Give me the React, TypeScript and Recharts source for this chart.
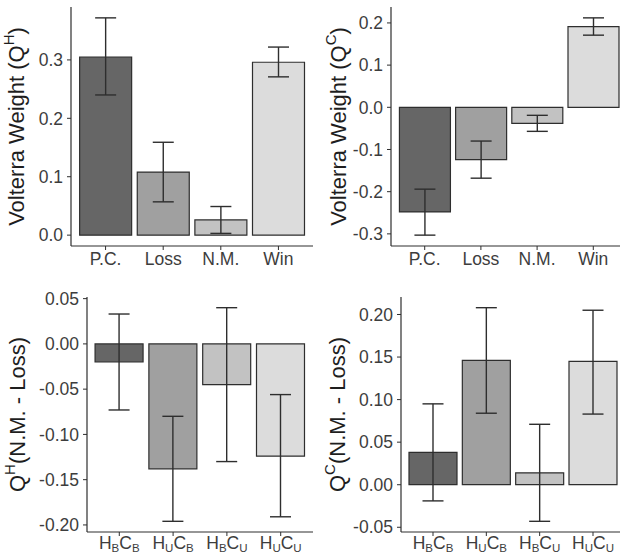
import React from 'react';
import { BarChart, Bar, XAxis, YAxis, ErrorBar, Cell } from 'recharts';

// categories
const outcomeCats = ['P.C.', 'Loss', 'N.M.', 'Win'];
const groupCats = ['HBCB', 'HUCB', 'HBCU', 'HUCU']; // every 2nd letter is a subscript

// Volterra weight, harmony (Q^H)
const qhMean = [0.305, 0.108, 0.026, 0.296];
const qhLow = [0.24, 0.057, 0.003, 0.271];
const qhHigh = [0.372, 0.159, 0.049, 0.322];

// Volterra weight, consonance (Q^C)
const qcMean = [-0.248, -0.124, -0.038, 0.191];
const qcLow = [-0.303, -0.168, -0.057, 0.171];
const qcHigh = [-0.194, -0.08, -0.019, 0.212];

// Q^H (N.M. - Loss)
const dhMean = [-0.02, -0.138, -0.045, -0.124];
const dhLow = [-0.073, -0.196, -0.13, -0.191];
const dhHigh = [0.033, -0.08, 0.04, -0.056];

// Q^C (N.M. - Loss)
const dcMean = [0.038, 0.146, 0.014, 0.145];
const dcLow = [-0.019, 0.084, -0.043, 0.083];
const dcHigh = [0.095, 0.208, 0.071, 0.205];

const ticksQH = [0, 0.1, 0.2, 0.3];
const ticksQC = [-0.3, -0.2, -0.1, 0, 0.1, 0.2];
const ticksDH = [-0.2, -0.15, -0.1, -0.05, 0, 0.05];
const ticksDC = [-0.05, 0, 0.05, 0.1, 0.15, 0.2];

const fills = ['#666666', '#a0a0a0', '#c2c2c2', '#dcdcdc'];

const FONT = '"Liberation Sans", Arial, sans-serif';
const INK = '#2e2e2e';
const TICK_INK = '#3d3d3d';

// ggplot-like expansion: 5% of the data range on each side
const expand = (lo: number[], hi: number[]): [number, number] => {
  const min = Math.min(0, ...lo);
  const max = Math.max(0, ...hi);
  const pad = (max - min) * 0.05;
  return [min - pad, max + pad];
};

const SubTick = (props: any) => {
  const { x, y, payload } = props;
  const s: string = payload.value;
  return (
    <text x={x} y={y} dy={11} textAnchor="middle" fill={TICK_INK} fontSize={17.5} fontFamily={FONT}>
      {s[0]}
      <tspan dy={3} fontSize={11.5}>{s[1]}</tspan>
      <tspan dy={-3}>{s[2]}</tspan>
      <tspan dy={3} fontSize={11.5}>{s[3]}</tspan>
    </text>
  );
};

type PanelProps = {
  left: number;
  top: number;
  width: number;
  height: number;
  axisWidth: number;
  marginTop: number;
  xAxisHeight: number;
  cats: string[];
  mean: number[];
  low: number[];
  high: number[];
  ticks: number[];
  digits: number;
  titleX: number;
  title: React.ReactNode;
  sub?: boolean;
};

const Panel = (p: PanelProps) => {
  const data = p.cats.map((name, i) => ({
    name,
    value: p.mean[i],
    err: [p.mean[i] - p.low[i], p.high[i] - p.mean[i]],
  }));
  const plotW = p.width - p.axisWidth;
  const pad = (plotW / 4.2) * 0.1;
  const domain = expand(p.low, p.high);

  const renderTitle = (lp: any) => {
    const vb = lp.viewBox || {};
    const cy = (vb.y ?? p.marginTop) + (vb.height ?? 0) / 2;
    return (
      <text
        x={p.titleX}
        y={cy}
        transform={`rotate(-90, ${p.titleX}, ${cy})`}
        textAnchor="middle"
        fill="#1e1e1e"
        fontSize={22}
        fontFamily={FONT}
      >
        {p.title}
      </text>
    );
  };

  return (
    <div style={{ position: 'absolute', left: p.left, top: p.top }}>
      <BarChart
        width={p.width}
        height={p.height}
        data={data}
        margin={{ top: p.marginTop, right: 0, bottom: 0, left: 0 }}
        barCategoryGap="5%"
      >
        <XAxis
          dataKey="name"
          type="category"
          height={p.xAxisHeight}
          padding={{ left: pad, right: pad }}
          axisLine={{ stroke: INK, strokeWidth: 1.2 }}
          tickLine={{ stroke: INK }}
          tickSize={4}
          tickMargin={p.sub ? 2 : 3}
          interval={0}
          tick={p.sub ? <SubTick /> : { fill: TICK_INK, fontSize: 17.5, fontFamily: FONT }}
        />
        <YAxis
          type="number"
          width={p.axisWidth}
          domain={domain}
          allowDataOverflow
          ticks={p.ticks}
          interval={0}
          tickFormatter={(v: number) => v.toFixed(p.digits)}
          axisLine={{ stroke: INK, strokeWidth: 1.2 }}
          tickLine={{ stroke: INK }}
          tickSize={4}
          tickMargin={4}
          tick={{ fill: TICK_INK, fontSize: 17.5, fontFamily: FONT }}
          label={{ content: renderTitle }}
        />
        <Bar dataKey="value" stroke={INK} strokeWidth={1.2} isAnimationActive={false}>
          {data.map((d, i) => (
            <Cell key={d.name} fill={fills[i]} />
          ))}
          <ErrorBar dataKey="err" direction="y" width={10.5} stroke={INK} strokeWidth={1.4} />
        </Bar>
      </BarChart>
    </div>
  );
};

export default function App() {
  return (
    <div
      style={{
        position: 'absolute',
        left: 0,
        top: 0,
        width: 620,
        height: 555,
        overflow: 'hidden',
        background: '#fff',
      }}
    >
      <Panel
        left={0}
        top={0}
        width={313}
        height={280}
        axisWidth={71}
        marginTop={7}
        xAxisHeight={34}
        cats={outcomeCats}
        mean={qhMean}
        low={qhLow}
        high={qhHigh}
        ticks={ticksQH}
        digits={1}
        titleX={24}
        title={
          <>
            Volterra Weight (Q
            <tspan dy={-10} fontSize={15}>H</tspan>
            <tspan dy={10}>)</tspan>
          </>
        }
      />
      <Panel
        left={310}
        top={0}
        width={317}
        height={280}
        axisWidth={81}
        marginTop={7}
        xAxisHeight={34}
        cats={outcomeCats}
        mean={qcMean}
        low={qcLow}
        high={qcHigh}
        ticks={ticksQC}
        digits={1}
        titleX={36}
        title={
          <>
            Volterra Weight (Q
            <tspan dy={-10} fontSize={15}>C</tspan>
            <tspan dy={10}>)</tspan>
          </>
        }
      />
      <Panel
        left={0}
        top={280}
        width={313}
        height={275}
        axisWidth={87}
        marginTop={17}
        xAxisHeight={23}
        cats={groupCats}
        mean={dhMean}
        low={dhLow}
        high={dhHigh}
        ticks={ticksDH}
        digits={2}
        titleX={25}
        sub
        title={
          <>
            Q
            <tspan dy={-10} fontSize={15}>H</tspan>
            <tspan dy={10}>(N.M. - Loss)</tspan>
          </>
        }
      />
      <Panel
        left={310}
        top={280}
        width={315}
        height={275}
        axisWidth={91}
        marginTop={17}
        xAxisHeight={23}
        cats={groupCats}
        mean={dcMean}
        low={dcLow}
        high={dcHigh}
        ticks={ticksDC}
        digits={2}
        titleX={35}
        sub
        title={
          <>
            Q
            <tspan dy={-10} fontSize={15}>C</tspan>
            <tspan dy={10}>(N.M. - Loss)</tspan>
          </>
        }
      />
    </div>
  );
}
